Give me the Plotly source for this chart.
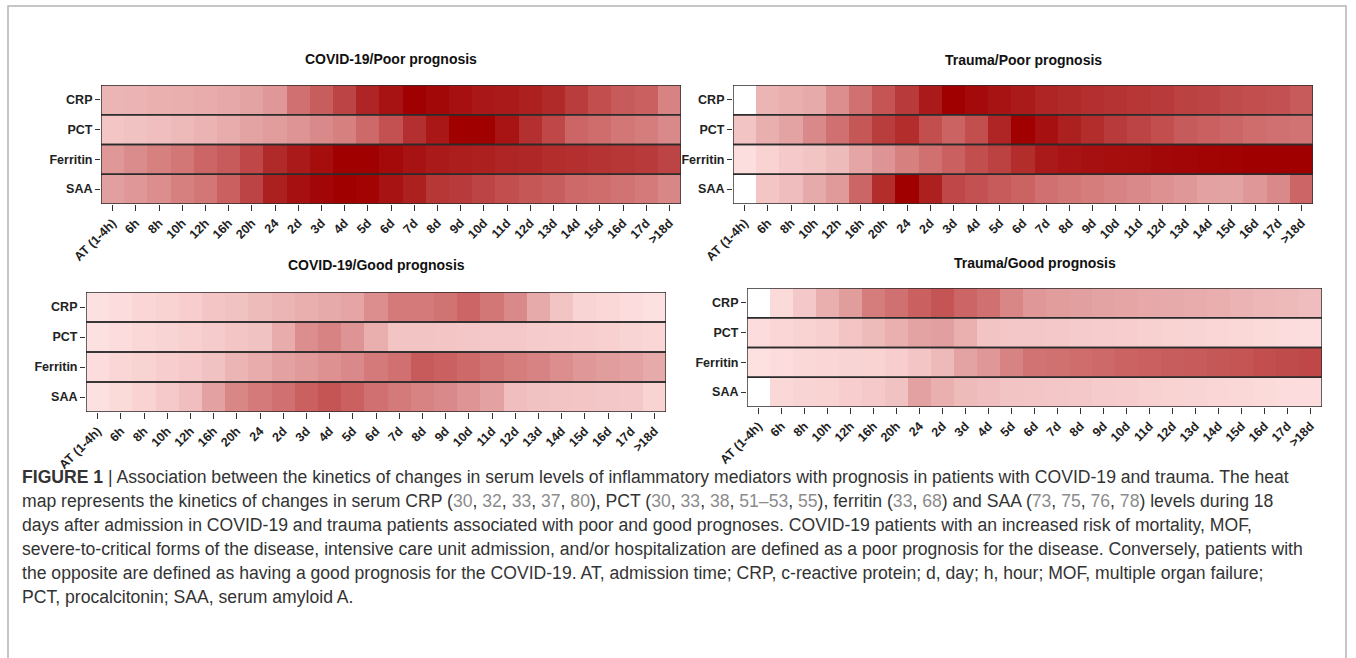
import plotly.graph_objects as go

W, H = 1356, 658

time_labels = ["AT (1-4h)", "6h", "8h", "10h", "12h", "16h", "20h", "24", "2d", "3d",
               "4d", "5d", "6d", "7d", "8d", "9d", "10d", "11d", "12d", "13d",
               "14d", "15d", "16d", "17d", ">18d"]
markers = ["CRP", "PCT", "Ferritin", "SAA"]

# Relative level (0-1) of each mediator over time; None = no data
covid_poor_crp = [0.35, 0.36, 0.37, 0.38, 0.39, 0.41, 0.43, 0.48, 0.61, 0.67, 0.75, 0.85, 0.91,
                  1.00, 0.96, 0.92, 0.89, 0.88, 0.86, 0.83, 0.77, 0.72, 0.68, 0.66, 0.55]
covid_poor_pct = [0.26, 0.28, 0.30, 0.33, 0.36, 0.39, 0.43, 0.46, 0.49, 0.53, 0.56, 0.63, 0.71,
                  0.81, 0.89, 1.00, 1.00, 0.90, 0.81, 0.74, 0.64, 0.62, 0.59, 0.57, 0.53]
covid_poor_ferritin = [0.48, 0.52, 0.56, 0.59, 0.64, 0.68, 0.74, 0.83, 0.88, 0.93, 1.00, 1.00, 0.95,
                       0.91, 0.88, 0.87, 0.86, 0.85, 0.84, 0.82, 0.81, 0.80, 0.79, 0.78, 0.75]
covid_poor_saa = [0.45, 0.48, 0.51, 0.56, 0.59, 0.66, 0.75, 0.86, 0.92, 0.97, 1.00, 0.98, 0.91,
                  0.86, 0.79, 0.78, 0.75, 0.72, 0.69, 0.67, 0.63, 0.62, 0.60, 0.58, 0.54]

trauma_poor_crp = [None, 0.35, 0.38, 0.40, 0.51, 0.61, 0.70, 0.78, 0.88, 1.00, 0.95, 0.91, 0.88,
                   0.85, 0.83, 0.81, 0.80, 0.79, 0.78, 0.76, 0.75, 0.73, 0.72, 0.71, 0.68]
trauma_poor_pct = [0.27, 0.38, 0.43, 0.53, 0.61, 0.69, 0.77, 0.82, 0.72, 0.65, 0.72, 0.85, 1.00,
                   0.92, 0.86, 0.82, 0.78, 0.75, 0.72, 0.68, 0.66, 0.64, 0.62, 0.61, 0.60]
trauma_poor_ferritin = [0.11, 0.17, 0.23, 0.27, 0.32, 0.42, 0.49, 0.56, 0.61, 0.66, 0.72, 0.76, 0.82,
                        0.88, 0.90, 0.92, 0.93, 0.94, 0.96, 0.97, 0.98, 0.99, 1.00, 1.00, 1.00]
trauma_poor_saa = [None, 0.26, 0.31, 0.40, 0.47, 0.64, 0.82, 1.00, 0.86, 0.74, 0.71, 0.68, 0.65,
                   0.61, 0.59, 0.57, 0.55, 0.53, 0.50, 0.48, 0.44, 0.43, 0.48, 0.53, 0.64]

covid_good_crp = [0.10, 0.12, 0.15, 0.17, 0.20, 0.26, 0.28, 0.32, 0.35, 0.38, 0.40, 0.42, 0.51,
                  0.58, 0.58, 0.60, 0.64, 0.59, 0.53, 0.40, 0.27, 0.16, 0.14, 0.12, 0.10]
covid_good_pct = [0.10, 0.12, 0.14, 0.16, 0.18, 0.22, 0.26, 0.28, 0.39, 0.51, 0.55, 0.49, 0.38,
                  0.27, 0.27, 0.26, 0.25, 0.24, 0.24, 0.22, 0.21, 0.20, 0.18, 0.16, 0.15]
covid_good_ferritin = [0.12, 0.15, 0.17, 0.20, 0.23, 0.28, 0.35, 0.39, 0.44, 0.47, 0.50, 0.53, 0.58,
                       0.61, 0.68, 0.66, 0.63, 0.60, 0.57, 0.55, 0.51, 0.48, 0.46, 0.44, 0.40]
covid_good_saa = [0.10, 0.13, 0.17, 0.23, 0.30, 0.44, 0.54, 0.58, 0.61, 0.66, 0.70, 0.66, 0.61,
                  0.58, 0.55, 0.53, 0.49, 0.44, 0.30, 0.28, 0.27, 0.26, 0.25, 0.24, 0.17]

trauma_good_crp = [None, 0.13, 0.24, 0.38, 0.46, 0.57, 0.61, 0.66, 0.70, 0.64, 0.61, 0.54, 0.48,
                   0.46, 0.45, 0.43, 0.42, 0.41, 0.40, 0.39, 0.38, 0.36, 0.34, 0.33, 0.31]
trauma_good_pct = [0.12, 0.15, 0.17, 0.19, 0.27, 0.32, 0.37, 0.43, 0.45, 0.37, 0.27, 0.25, 0.25,
                   0.24, 0.22, 0.21, 0.20, 0.18, 0.17, 0.16, 0.15, 0.14, 0.13, 0.12, 0.11]
trauma_good_ferritin = [0.10, 0.12, 0.14, 0.15, 0.16, 0.17, 0.20, 0.26, 0.33, 0.43, 0.48, 0.55, 0.60,
                        0.61, 0.62, 0.63, 0.65, 0.66, 0.67, 0.68, 0.69, 0.70, 0.72, 0.73, 0.74]
trauma_good_saa = [None, 0.14, 0.16, 0.17, 0.20, 0.23, 0.28, 0.44, 0.37, 0.32, 0.30, 0.27, 0.26,
                   0.25, 0.24, 0.22, 0.21, 0.18, 0.17, 0.16, 0.15, 0.14, 0.13, 0.12, 0.12]

panel_titles = ["COVID-19/Poor prognosis", "Trauma/Poor prognosis",
                "COVID-19/Good prognosis", "Trauma/Good prognosis"]
panel_data = [
    [covid_poor_crp, covid_poor_pct, covid_poor_ferritin, covid_poor_saa],
    [trauma_poor_crp, trauma_poor_pct, trauma_poor_ferritin, trauma_poor_saa],
    [covid_good_crp, covid_good_pct, covid_good_ferritin, covid_good_saa],
    [trauma_good_crp, trauma_good_pct, trauma_good_ferritin, trauma_good_saa],
]

# Pixel boxes of the four heat maps: (left, right, top, bottom) and title rows
panel_boxes = [(101, 681, 85, 204), (733, 1313, 85, 204),
               (86, 666, 292, 412), (747, 1322, 288, 407)]
title_rows = [59, 60, 265, 263]

reds = [[0.00, "#ffeaea"], [0.10, "#fde0e0"], [0.18, "#f8d0d0"], [0.27, "#f2c4c4"],
        [0.35, "#ecb5b5"], [0.47, "#e09a9a"], [0.56, "#d68080"], [0.64, "#cc6666"],
        [0.72, "#c24e4e"], [0.81, "#b43030"], [0.90, "#a81414"], [1.00, "#a00000"]]


def fx(p):
    return p / W


def fy(p):
    return 1 - p / H


fig = go.Figure()
shapes = []
annotations = []
tick_font = dict(family="Liberation Sans, Arial, sans-serif", size=12.5, color="#222", weight="bold")

for k, (title, rows, box, trow) in enumerate(zip(panel_titles, panel_data, panel_boxes, title_rows)):
    n = "" if k == 0 else str(k + 1)
    left, right, top, bottom = box
    fig.add_trace(go.Heatmap(
        z=rows, x=list(range(len(time_labels))), y=list(range(len(markers))),
        colorscale=reds, zmin=0, zmax=1, showscale=False, hoverongaps=False,
        xaxis="x" + n, yaxis="y" + n,
        customdata=[[f"{m} · {t}" for t in time_labels] for m in markers],
        hovertemplate="%{customdata}: %{z:.2f}<extra></extra>",
    ))
    fig.update_layout(**{
        "xaxis" + n: dict(domain=[fx(left), fx(right)], anchor="y" + n, automargin=False,
                          range=[-0.5, len(time_labels) - 0.5],
                          tickvals=list(range(len(time_labels))), ticktext=time_labels,
                          tickangle=-45, ticks="outside", ticklen=6, tickwidth=1,
                          tickcolor="#333", showgrid=False, zeroline=False,
                          showline=False, tickfont=tick_font),
        "yaxis" + n: dict(domain=[fy(bottom), fy(top)], anchor="x" + n, automargin=False,
                          range=[len(markers) - 0.5, -0.5],
                          tickvals=list(range(len(markers))), ticktext=markers,
                          ticks="outside", ticklen=5, tickwidth=1, tickcolor="#333",
                          showgrid=False, zeroline=False, showline=False,
                          tickfont=dict(tick_font, size=12.5)),
    })
    # outline each mediator row as its own strip
    for i in range(len(markers)):
        shapes.append(dict(type="rect", xref="x" + n, yref="y" + n,
                           x0=-0.5, x1=len(time_labels) - 0.5, y0=i - 0.5, y1=i + 0.5,
                           line=dict(color="#2b2b2b", width=1.4), fillcolor="rgba(0,0,0,0)"))
    annotations.append(dict(text=title, xref="paper", yref="paper",
                            x=fx((left + right) / 2), y=fy(trow), xanchor="center",
                            yanchor="middle", showarrow=False,
                            font=dict(family="Liberation Sans, Arial, sans-serif", size=14,
                                      color="#111", weight="bold")))

# frame around the whole figure
shapes.append(dict(type="rect", xref="paper", yref="paper", x0=fx(8), x1=fx(1346),
                   y0=fy(720), y1=fy(6), line=dict(color="#b4b4b4", width=1.5),
                   fillcolor="rgba(0,0,0,0)", layer="below"))


def ref(s):
    return f"<span style='color:#8c8c8c'>{s}</span>"


caption_lines = [
    "<b>FIGURE 1</b> | Association between the kinetics of changes in serum levels of inflammatory "
    "mediators with prognosis in patients with COVID-19 and trauma. The heat",
    f"map represents the kinetics of changes in serum CRP ({ref('30')}, {ref('32')}, {ref('33')}, "
    f"{ref('37')}, {ref('80')}), PCT ({ref('30')}, {ref('33')}, {ref('38')}, {ref('51–53')}, {ref('55')}), "
    f"ferritin ({ref('33')}, {ref('68')}) and SAA ({ref('73')}, {ref('75')}, {ref('76')}, {ref('78')}) "
    "levels during 18",
    "days after admission in COVID-19 and trauma patients associated with poor and good prognoses. "
    "COVID-19 patients with an increased risk of mortality, MOF,",
    "severe-to-critical forms of the disease, intensive care unit admission, and/or hospitalization "
    "are defined as a poor prognosis for the disease. Conversely, patients with",
    "the opposite are defined as having a good prognosis for the COVID-19. AT, admission time; CRP, "
    "c-reactive protein; d, day; h, hour; MOF, multiple organ failure;",
    "PCT, procalcitonin; SAA, serum amyloid A.",
]
caption_rows = [477, 501, 525, 549, 573, 597]
for line, row in zip(caption_lines, caption_rows):
    annotations.append(dict(text=line, xref="paper", yref="paper", x=fx(20), y=fy(row),
                            xanchor="left", yanchor="middle", showarrow=False, align="left",
                            font=dict(family="Liberation Sans, Arial, sans-serif",
                                      size=17.6, color="#333")))

fig.update_layout(width=W, height=H, margin=dict(l=0, r=0, t=0, b=0, autoexpand=False),
                  paper_bgcolor="white", plot_bgcolor="white",
                  shapes=shapes, annotations=annotations, showlegend=False)

fig.write_html("out.html", config={"displayModeBar": False})
